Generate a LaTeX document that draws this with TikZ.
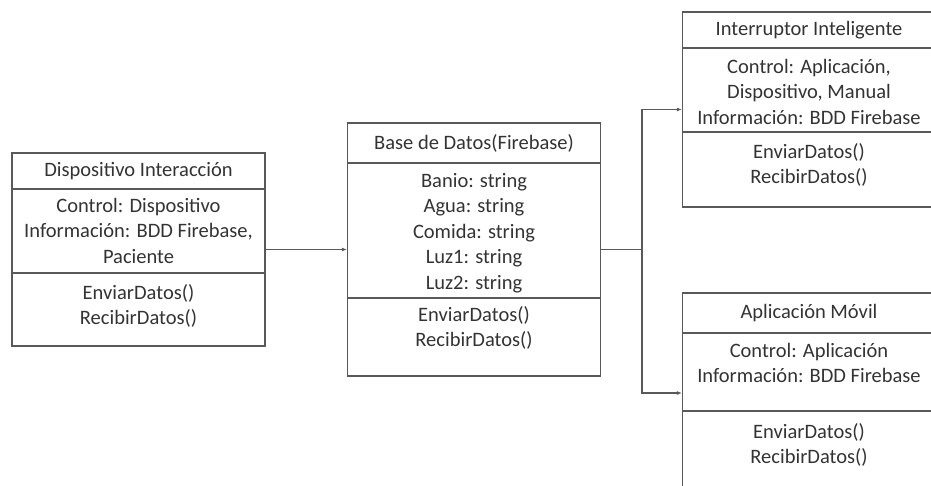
\documentclass[tikz,border=0pt]{standalone}
\usepackage{fontspec}
\setmainfont{Carlito}
\usepackage{tikz}
\usetikzlibrary{arrows.meta}
\definecolor{linea}{HTML}{595959}
\definecolor{letra}{HTML}{333333}

\begin{document}
\begin{tikzpicture}[x=1pt,y=-1pt,
    clase/.style={draw=linea, line width=1.2pt, minimum width=253pt, inner sep=0pt},
    titulo/.style={text=letra, font=\fontsize{20.5}{25.5}\selectfont, inner sep=0pt},
    texto/.style={text=letra, font=\fontsize{20.5}{25.5}\selectfont, align=center, anchor=north, inner sep=0pt},
    div/.style={draw=linea, line width=1.2pt},
    flecha/.style={draw=linea, line width=1.2pt, -{Latex[length=5pt,width=4pt]}}]
      \useasboundingbox (0,0) rectangle (931,486);
      \clip (0,0) rectangle (931,486);

      % Dispositivo Interaccion
      \node[clase, minimum height=193pt] (disp)   at (138.5,249.5) {};
      \node[titulo]                      (disp-t) at (138.5,171) {Dispositivo Interacción};
      \draw[div]                         (12,189) -- (265,189);
      \node[texto]                       (disp-a) at (138.5,198) {Control: Dispositivo\\Información: BDD Firebase,\\Paciente};
      \draw[div]                         (12,273) -- (265,273);
      \node[texto]                       (disp-m) at (138.5,284) {EnviarDatos()\\RecibirDatos()};

      % Base de Datos
      \node[clase, minimum height=253pt] (base)   at (474,249.5) {};
      \node[titulo]                      (base-t) at (474,143) {Base de Datos(Firebase)};
      \draw[div]                         (347,163) -- (601,163);
      \node[texto]                       (base-a) at (474,173) {Banio: string\\Agua: string\\Comida: string\\Luz1: string\\Luz2: string};
      \draw[div]                         (347,298) -- (601,298);
      \node[texto]                       (base-m) at (474,306) {EnviarDatos()\\RecibirDatos()};

      % Interruptor Inteligente
      \node[clase, minimum height=195pt] (inter)   at (809,109.5) {};
      \node[titulo]                      (inter-t) at (809,30) {Interruptor Inteligente};
      \draw[div]                         (682,48) -- (936,48);
      \node[texto]                       (inter-a) at (809,59) {Control: Aplicación,\\Dispositivo, Manual\\Información: BDD Firebase};
      \draw[div]                         (682,132) -- (936,132);
      \node[texto]                       (inter-m) at (809,143) {EnviarDatos()\\RecibirDatos()};

      % Aplicacion Movil
      \node[clase, minimum height=200pt] (app)   at (809,393) {};
      \node[titulo]                      (app-t) at (809,313) {Aplicación Móvil};
      \draw[div]                         (682,333) -- (936,333);
      \node[texto]                       (app-a) at (809,343) {Control: Aplicación\\Información: BDD Firebase};
      \draw[div]                         (682,411) -- (936,411);
      \node[texto]                       (app-m) at (809,423) {EnviarDatos()\\RecibirDatos()};

      % conexiones
      \coordinate (split) at (642,249.5);
      \draw[flecha] (disp.east) -- (base.west);
      \draw[div]    (base.east) -- (split);
      \draw[flecha] (split) |- (inter.west);
      \draw[flecha] (split) |- (app.west);
\end{tikzpicture}
\end{document}
